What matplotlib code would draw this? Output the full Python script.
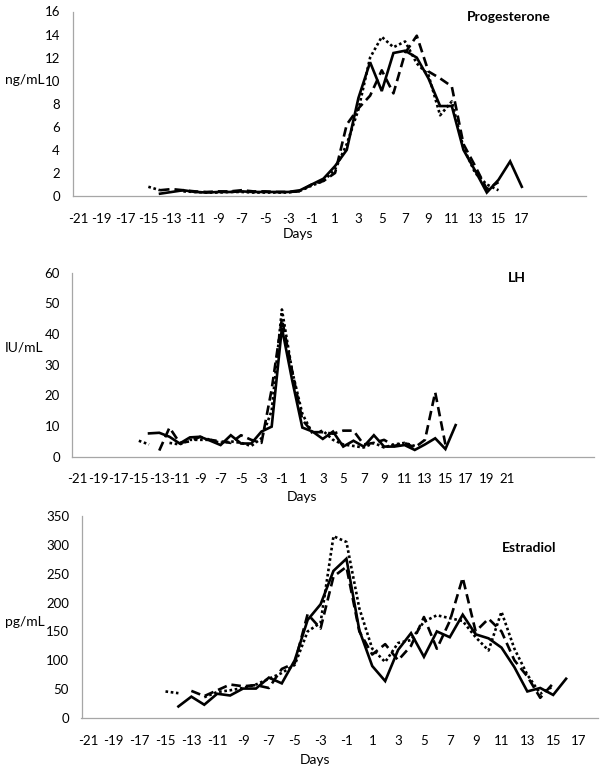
import numpy as np
import matplotlib
matplotlib.use('Agg')
import matplotlib.pyplot as plt

plt.rcParams['font.family'] = ['Lato', 'DejaVu Sans']
plt.rcParams['axes.unicode_minus'] = False

nan = np.nan

# ---- Progesterone (ng/mL) ----
p_solid_days = list(range(-14, 18))
p_solid = [0.2, 0.35, 0.5, 0.35, 0.3, 0.35, 0.35, 0.4, 0.35, 0.35, 0.35, 0.35, 0.5, 1.0, 1.5, 2.6,
           4.0, 8.5, 11.6, 9.1, 12.4, 12.6, 12.0, 10.2, 7.8, 7.8, 4.0, 2.2, 0.3, 1.4, 3.0, 0.8]
p_dot_days = list(range(-15, 16))
p_dot = [0.8, 0.5, nan, 0.4, 0.35, 0.3, 0.3, 0.35, 0.35, 0.3, 0.3, 0.3, 0.3, 0.45, 0.9, 1.3,
         2.3, 4.5, 7.5, 12.0, 13.8, 12.9, 13.4, 11.5, 10.5, 7.0, 8.2, 4.2, 2.0, 1.0, 0.5]
p_dash_days = list(range(-14, 16))
p_dash = [0.5, 0.6, 0.5, 0.4, 0.35, 0.4, 0.4, 0.5, 0.4, 0.4, 0.35, 0.35, 0.4, 1.0, 1.3, 2.0,
          6.2, 7.6, 8.7, 10.9, 8.9, 12.4, 13.9, 10.8, 10.2, 9.5, 4.5, 2.6, 0.6, 1.2]

# ---- LH (IU/mL) ----
lh_solid_days = list(range(-14, 17))
lh_solid = [7.6, 7.8, 6.5, 4.3, 6.3, 6.5, 5.2, 3.8, 7.0, 4.3, 4.3, 8.2, 9.8, 42.0, 25.0, 9.5,
            8.2, 5.8, 8.2, 3.3, 5.2, 3.3, 7.0, 3.3, 3.3, 3.8, 2.2, 4.0, 6.0, 2.5, 10.3]
lh_dot_days = list(range(-15, 13))
lh_dot = [5.2, 4.0, nan, 4.5, 4.0, 5.5, 5.5, 5.5, 4.5, 5.0, 4.5, 3.5, 6.0, 15.0, 48.0, 28.0,
          14.0, 7.5, 8.5, 5.5, 4.0, 3.5, 3.0, 4.5, 3.0, 4.0, 4.5, 3.5]
lh_dash_days = list(range(-13, 16))
lh_dash = [2.0, 9.5, 4.5, 5.0, 6.5, 5.5, 5.0, 4.5, 7.0, 5.5, 4.5, 22.0, 45.0, 28.0, 12.0,
           8.0, 8.0, 7.5, 8.5, 8.5, 4.0, 4.5, 5.5, 3.5, 4.5, 3.0, 5.5, 21.0, 4.0]

# ---- Estradiol (pg/mL) ----
e_solid_days = list(range(-14, 17))
e_solid = [20, 37, 23, 42, 39, 51, 51, 70, 60, 100, 170, 197, 255, 276, 152, 90,
           64, 118, 147, 106, 150, 140, 179, 145, 138, 122, 88, 46, 52, 40, 68]
e_dot_days = list(range(-15, 16))
e_dot = [46, 43, nan, 36, 45, 48, 52, 58, 68, 78, 92, 150, 165, 315, 305, 190,
         120, 97, 130, 135, 167, 178, 173, 168, 140, 117, 184, 120, 75, 42, 55]
e_dash_days = list(range(-13, 16))
e_dash = [47, 38, 48, 58, 55, 57, 52, 85, 95, 180, 155, 245, 262, 150, 110,
          128, 100, 125, 175, 120, 168, 243, 150, 172, 150, 100, 72, 35, 60]

W, H = 605, 774
fig = plt.figure(figsize=(W / 100, H / 100), dpi=100)


def px_axes(left, right, bottom, top):
    # pixel box -> figure fraction
    return fig.add_axes([left / W, 1 - bottom / H, (right - left) / W, (bottom - top) / H])


def panel(ax, series, xlim, ymax, ystep, xlab_max, title, tx, ty, ylab, ly, dx, dy):
    for days, vals, ls in series:
        ax.plot(days, vals, color='black', lw=1.9, linestyle=ls, solid_joinstyle='miter')
    ax.set_xlim(*xlim)
    ax.set_ylim(0, ymax)
    ax.set_yticks(np.arange(0, ymax + 1, ystep))
    ax.set_xticks(list(range(-21, xlab_max + 1, 2)))
    ax.tick_params(length=0, labelsize=9.5, colors='black')
    ax.tick_params(axis='x', pad=12)
    ax.tick_params(axis='y', pad=9)
    for s in ['top', 'right']:
        ax.spines[s].set_visible(False)
    for s in ['left', 'bottom']:
        ax.spines[s].set_color('#a6a6a6')
        ax.spines[s].set_linewidth(0.9)
    fig.text(tx / W, 1 - ty / H, title, fontsize=10, fontweight='bold', va='center')
    fig.text(5 / W, 1 - ly / H, ylab, fontsize=10, va='center')
    fig.text(dx / W, 1 - dy / H, 'Days', fontsize=10, ha='center', va='center')


dash = (0, (3.6, 1.9))
dot = (0, (1, 1))

ax1 = px_axes(72.5, 586, 196, 11.5)
panel(ax1, [(p_solid_days, p_solid, '-'), (p_dot_days, p_dot, dot), (p_dash_days, p_dash, dash)],
      (-21.5, 22.5), 16, 2, 17, 'Progesterone', 467, 17, 'ng/mL', 80, 298, 234)

ax2 = px_axes(72.4, 593.6, 456.7, 272.7)
panel(ax2, [(lh_solid_days, lh_solid, '-'), (lh_dot_days, lh_dot, dot), (lh_dash_days, lh_dash, dash)],
      (-21.5, 29.5), 60, 10, 21, 'LH', 508, 278, 'IU/mL', 348, 302, 497)

ax3 = px_axes(81.5, 598.4, 718, 516)
panel(ax3, [(e_solid_days, e_solid, '-'), (e_dot_days, e_dot, dot), (e_dash_days, e_dash, dash)],
      (-21.5, 18.5), 350, 50, 17, 'Estradiol', 502, 548, 'pg/mL', 622, 315, 760)

fig.savefig('out.png', dpi=100)
